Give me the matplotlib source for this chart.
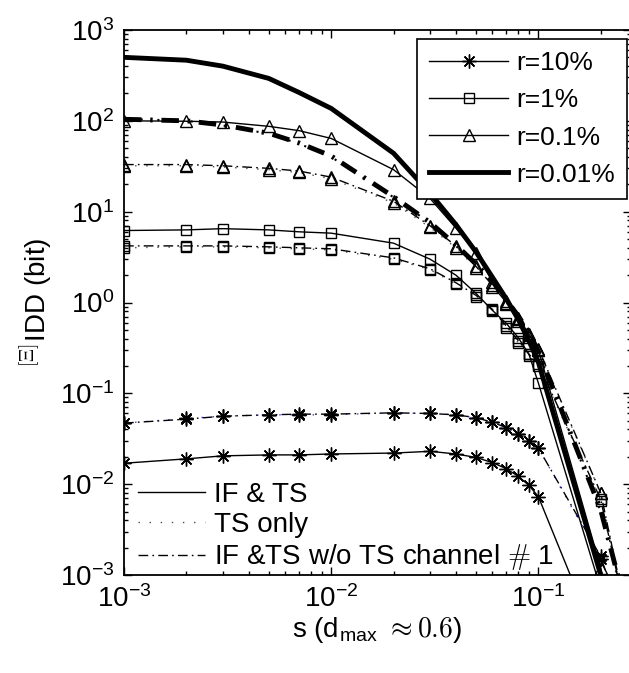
import matplotlib
matplotlib.use("Agg")
import matplotlib.pyplot as plt
from matplotlib.lines import Line2D

plt.rcParams["font.family"] = ["Liberation Sans", "DejaVu Sans"]
plt.rcParams["mathtext.fontset"] = "cm"

# sampling of s
s = [0.001, 0.002, 0.003, 0.005, 0.007, 0.01, 0.02, 0.03, 0.04, 0.05,
     0.06, 0.07, 0.08, 0.09, 0.1, 0.2, 0.3]

# r = 10%
if_ts_r10 = [0.017, 0.019, 0.0205, 0.021, 0.021, 0.0215, 0.022, 0.023, 0.0215,
             0.0197, 0.0173, 0.0148, 0.0122, 0.0097, 0.0073, 1.5e-4, 1e-5]
ts_only_r10 = [0.047, 0.053, 0.056, 0.058, 0.058, 0.058, 0.061, 0.060, 0.058,
               0.054, 0.048, 0.042, 0.036, 0.030, 0.025, 0.0015, 1e-4]
wo_ch1_r10 = [0.047, 0.052, 0.056, 0.058, 0.059, 0.059, 0.061, 0.060, 0.058,
              0.054, 0.048, 0.042, 0.036, 0.030, 0.025, 0.0016, 1e-4]

# r = 1%
if_ts_r1 = [6.2, 6.3, 6.5, 6.3, 6.0, 5.8, 4.5, 3.0, 2.0, 1.26, 0.82, 0.59,
            0.41, 0.27, 0.13, 7e-4, 1e-5]
ts_only_r1 = [4.0, 4.1, 4.1, 4.0, 3.9, 3.8, 3.0, 2.3, 1.6, 1.15, 0.80, 0.52,
              0.36, 0.26, 0.20, 0.0066, 1e-4]
wo_ch1_r1 = [4.2, 4.2, 4.2, 4.1, 4.0, 3.9, 3.1, 2.35, 1.65, 1.2, 0.84, 0.55,
             0.38, 0.27, 0.21, 0.0068, 1e-4]

# r = 0.1%
if_ts_r01 = [100, 99, 97, 87, 78, 64, 29, 14, 6.6, 3.5, 1.7, 1.05, 0.68,
             0.45, 0.30, 0.0012, 1e-5]
ts_only_r01 = [32, 32, 31, 29, 27, 23, 12.5, 6.7, 4.0, 2.4, 1.5, 0.97, 0.63,
               0.42, 0.30, 0.0079, 1e-4]
wo_ch1_r01 = [33, 33, 32, 30, 28, 24, 13, 7.0, 4.2, 2.5, 1.55, 1.0, 0.65,
              0.44, 0.31, 0.008, 1e-4]

# r = 0.01%
if_ts_r001 = [500, 465, 400, 293, 205, 137, 44, 16, 7.2, 3.6, 1.9, 1.1, 0.65,
              0.38, 0.22, 0.001, 1e-5]
ts_only_r001 = [105, 100, 89, 72, 56, 40, 14.4, 7.5, 4.2, 2.6, 1.7, 1.05,
                0.70, 0.46, 0.28, 0.005, 1.4e-4]
wo_ch1_r001 = [104, 100, 90, 73, 57, 41, 14.6, 7.6, 4.3, 2.65, 1.72, 1.07,
               0.71, 0.47, 0.29, 0.0052, 1.5e-4]

fig = plt.figure(figsize=(6.29, 6.73), dpi=100)
ax = fig.add_axes([124 / 629, 98 / 673, 507 / 629, 545 / 673])

dashdot = (7, 3, 1.2, 3)
dotted = (1, 7)
thick_dashdot = (3.6, 1.8, 0.5, 1.8)

mk = dict(mfc="none", mec="k", mew=1.0)

# TS only (dotted) and w/o TS channel #1 (dash-dot)
ax.plot(s, ts_only_r10, color="#3a3aff", lw=1.0, dashes=dotted, marker=(8, 2, 0), ms=10, **mk)
ax.plot(s, wo_ch1_r10, color="k", lw=1.0, dashes=dashdot, marker=(8, 2, 0), ms=10, **mk)
ax.plot(s, ts_only_r1, color="0.3", lw=1.0, dashes=dotted, marker="s", ms=6.5, **mk)
ax.plot(s, wo_ch1_r1, color="k", lw=1.0, dashes=dashdot, marker="s", ms=6.5, **mk)
ax.plot(s, ts_only_r01, color="0.3", lw=1.0, dashes=dotted, marker="^", ms=9, **mk)
ax.plot(s, wo_ch1_r01, color="k", lw=1.0, dashes=dashdot, marker="^", ms=9, **mk)
ax.plot(s, ts_only_r001, color="k", lw=1.5, dashes=dotted)
ax.plot(s, wo_ch1_r001, color="k", lw=3.5, dashes=thick_dashdot)

# IF & TS (solid)
h10, = ax.plot(s, if_ts_r10, color="k", lw=1.0, marker=(8, 2, 0), ms=10, **mk)
h1, = ax.plot(s, if_ts_r1, color="k", lw=1.0, marker="s", ms=6.5, **mk)
h01, = ax.plot(s, if_ts_r01, color="k", lw=1.0, marker="^", ms=9, **mk)
h001, = ax.plot(s, if_ts_r001, color="k", lw=3.5)

ax.set_xscale("log")
ax.set_yscale("log")
ax.set_xlim(1e-3, 0.28)
ax.set_ylim(1e-3, 1e3)

ax.tick_params(which="both", direction="in", top=True, right=True,
               labelsize=20, width=1.0, pad=7)
ax.tick_params(which="major", length=6)
ax.tick_params(which="minor", length=3)
for sp in ax.spines.values():
    sp.set_linewidth(1.3)

ax.set_xlabel(r"s (d$_{\mathdefault{max}}$ $\approx 0.6$)", fontsize=20, labelpad=2)
ax.set_ylabel(r"$^{[\Xi]}$IDD (bit)", fontsize=20, labelpad=4)

leg1 = ax.legend([h10, h1, h01, h001], ["r=10%", "r=1%", "r=0.1%", "r=0.01%"],
                 loc="upper right", bbox_to_anchor=(0.992, 0.983),
                 borderaxespad=0, fontsize=19, handlelength=3.0,
                 handletextpad=0.3, labelspacing=0.5, borderpad=0.45,
                 fancybox=False, framealpha=1, edgecolor="k")
leg1.get_frame().set_linewidth(1.2)
ax.add_artist(leg1)

style_handles = [
    Line2D([], [], color="k", lw=1.0),
    Line2D([], [], color="0.3", lw=1.0, dashes=dotted),
    Line2D([], [], color="k", lw=1.0, dashes=dashdot),
]
ax.legend(style_handles, ["IF & TS", "TS only", r"IF &TS w/o TS channel $\#$ 1"],
          loc="lower left", bbox_to_anchor=(0.022, 0.0), borderaxespad=0,
          fontsize=20, handlelength=2.4, handletextpad=0.35,
          labelspacing=0.15, borderpad=0.1, frameon=False)

fig.savefig("out.png", dpi=100)
